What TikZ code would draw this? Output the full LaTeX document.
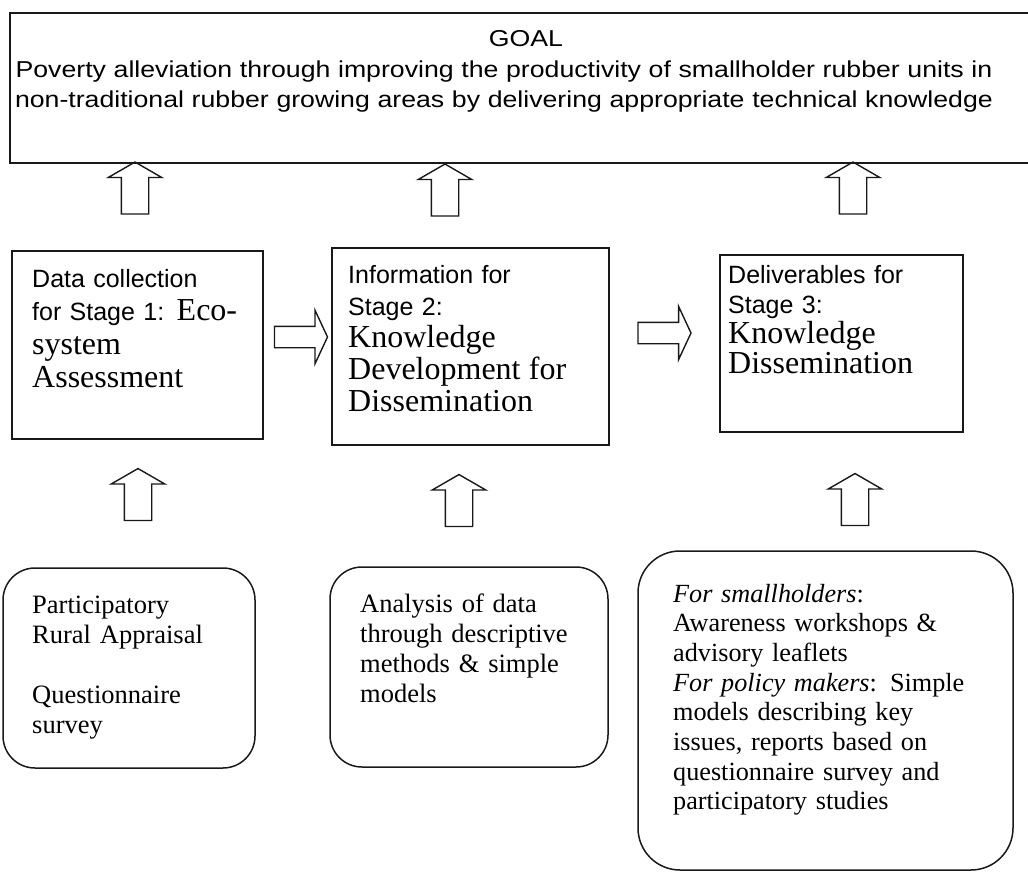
\documentclass[tikz,border=0pt]{standalone}
\usepackage{fontspec}
\setmainfont{Liberation Serif}
\setsansfont{Liberation Sans}
\newfontfamily\goalfont{Liberation Sans}[FakeStretch=1.16]
\usetikzlibrary{shapes.arrows,positioning}
\tikzset{
  goalbox/.style={rectangle, draw=black!90, line width=1.5pt},
  stagebox/.style={rectangle, draw=black!90, line width=1.5pt},
  methodbox/.style={rectangle, rounded corners=32pt, draw=black!90, line width=1.5pt},
  txt/.style={anchor=base west, align=left, inner sep=0pt},
  uparrow/.style={single arrow, draw=black!90, line width=1.4pt, rotate=90, minimum height=52pt,
    inner xsep=0pt, inner ysep=13pt, single arrow head extend=13pt, single arrow tip angle=120},
  rightarrow/.style={single arrow, draw=black!90, line width=1.4pt, minimum height=53pt,
    inner xsep=0pt, inner ysep=10pt, single arrow head extend=16pt, single arrow tip angle=130}
}
\newcommand{\bigserif}{\rmfamily\fontsize{32}{\baselineskip}\selectfont}

\begin{document}
\begin{tikzpicture}[x=1pt, y=-1pt]
  \useasboundingbox (0,0) rectangle (1028,872);
  % goal
  \node[goalbox, minimum width=1025pt, minimum height=150pt] (goal) at (522.5,88) {};
  \node[txt, anchor=base, font=\goalfont\fontsize{23}{30}\selectfont] (goaltitle) at (526,47) {GOAL};
  \node[txt, anchor=base, align=center, text width=1010pt, font=\goalfont\fontsize{23}{30}\selectfont] (goaltxt) at (504,78)
    {Poverty alleviation through improving the productivity of smallholder rubber units in\\non-traditional rubber growing areas by delivering appropriate technical knowledge};

  % stages
  \node[stagebox, minimum width=251pt, minimum height=188pt] (stage1) at (137.5,345) {};
  \node[stagebox, minimum width=277pt, minimum height=197pt] (stage2) at (470.5,346.5) {};
  \node[stagebox, minimum width=243pt, minimum height=177pt] (stage3) at (841.5,343.5) {};
  \node[txt, text width=235pt, font=\sffamily\fontsize{25}{33.5}\selectfont] (stage1txt) at (32,287)
    {Data collection\\for Stage 1: {\bigserif Eco-}\\{\bigserif system}\\{\bigserif Assessment}};
  \node[txt, text width=260pt, font=\sffamily\fontsize{25}{32}\selectfont] (stage2txt) at (348,283)
    {Information for\\Stage 2:\\{\bigserif Knowledge}\\{\bigserif Development for}\\{\bigserif Dissemination}};
  \node[txt, text width=230pt, font=\sffamily\fontsize{25}{30}\selectfont] (stage3txt) at (728,283)
    {Deliverables for\\Stage 3:\\{\bigserif Knowledge}\\{\bigserif Dissemination}};

  % methods
  \node[methodbox, minimum width=252pt, minimum height=200pt] (method1) at (129,668) {};
  \node[methodbox, minimum width=278pt, minimum height=200pt] (method2) at (469,667) {};
  \node[methodbox, rounded corners=42pt, minimum width=375pt, minimum height=319pt] (method3) at (825.5,710.5) {};
  \node[txt, text width=230pt, font=\rmfamily\fontsize{26.5}{30}\selectfont] (method1txt) at (32,613)
    {Participatory\\Rural Appraisal\\[30pt]Questionnaire\\survey};
  \node[txt, text width=240pt, font=\rmfamily\fontsize{26.5}{30}\selectfont] (method2txt) at (360,612)
    {Analysis of data\\through descriptive\\methods \& simple\\models};
  \node[txt, text width=335pt, font=\rmfamily\fontsize{26.2}{29.7}\selectfont] (method3txt) at (673,602)
    {\textit{For smallholders}:\\Awareness workshops \&\\advisory leaflets\\\textit{For policy makers}: Simple\\models describing key\\issues, reports based on\\questionnaire survey and\\participatory studies};

  % block arrows
  \node[uparrow] (up1) at (135,192) {};
  \node[uparrow] (up2) at (445,194) {};
  \node[uparrow] (up3) at (853,192) {};
  \node[uparrow] (up4) at (138,498.5) {};
  \node[uparrow] (up5) at (459,504.5) {};
  \node[uparrow] (up6) at (855,503.5) {};
  \node[rightarrow] (right1) at (298.5,337) {};
  \node[rightarrow] (right2) at (662,333) {};
\end{tikzpicture}
\end{document}
